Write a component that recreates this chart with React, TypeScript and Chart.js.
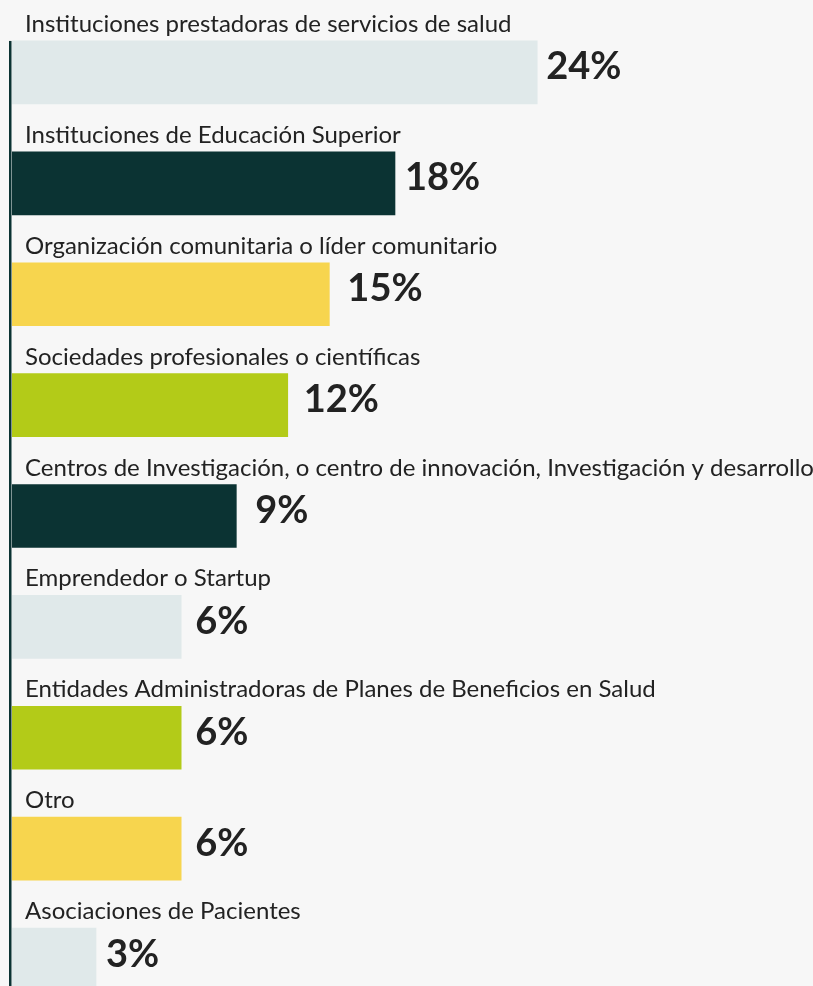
import React, { useEffect, useRef } from 'react';
import { Chart, registerables } from 'chart.js';

Chart.register(...registerables);

const categories = [
  'Instituciones prestadoras de servicios de salud',
  'Instituciones de Educación Superior',
  'Organización comunitaria o líder comunitario',
  'Sociedades profesionales o científicas',
  'Centros de Investigación, o centro de innovación, Investigación y desarrollo',
  'Emprendedor o Startup',
  'Entidades Administradoras de Planes de Beneficios en Salud',
  'Otro',
  'Asociaciones de Pacientes',
];

// bar lengths as drawn in the picture
const barValues = [24, 17.5, 14.5, 12.6, 10.25, 7.73, 7.73, 7.73, 3.84];

// value labels as printed
const valueLabels = ['24%', '18%', '15%', '12%', '9%', '6%', '6%', '6%', '3%'];

const LIGHT = '#e0e9ea';
const DARK = '#0b3333';
const YELLOW = '#f7d54e';
const LIME = '#b3cb18';
const barColors = [LIGHT, DARK, YELLOW, LIME, DARK, LIGHT, LIME, YELLOW, LIGHT];

// style: gap between the bar end and its value label (px)
const labelGaps = [9, 10, 18, 16, 19, 14, 14, 14, 10];

const labelPlugin = {
  id: 'labelPlugin',
  beforeDatasetsDraw(chart: any) {
    const ctx = chart.ctx;
    const meta = chart.getDatasetMeta(0);
    const els = meta.data;
    if (!els.length) return;
    const first = els[0];
    const last = els[els.length - 1];
    const top = first.y - first.height / 2;
    const bottom = last.y + last.height / 2;
    ctx.save();
    ctx.fillStyle = DARK;
    ctx.fillRect(chart.chartArea.left - 3, top, 2.5, bottom - top);
    ctx.restore();
  },
  afterDatasetsDraw(chart: any) {
    const ctx = chart.ctx;
    const meta = chart.getDatasetMeta(0);
    ctx.save();
    meta.data.forEach((el: any, i: number) => {
      const top = el.y - el.height / 2;
      ctx.fillStyle = '#222222';
      ctx.textAlign = 'left';
      ctx.textBaseline = 'alphabetic';
      ctx.font = '24px Lato';
      ctx.fillText(categories[i], chart.chartArea.left + 13, top - 9);
      ctx.font = 'bold 38px Lato';
      ctx.fillText(valueLabels[i], el.x + labelGaps[i], top + 38.5);
    });
    ctx.restore();
  },
};

export default function App() {
  const ref = useRef<HTMLCanvasElement | null>(null);
  useEffect(() => {
    if (!ref.current) return;
    const chart = new Chart(ref.current, {
      type: 'bar',
      data: {
        labels: categories,
        datasets: [
          {
            data: barValues,
            backgroundColor: barColors,
            borderWidth: 0,
            barThickness: 63,
          },
        ],
      },
      options: {
        indexAxis: 'y',
        responsive: false,
        animation: false,
        layout: { padding: { left: 12, top: 17, right: 0, bottom: 0 } },
        plugins: { legend: { display: false }, tooltip: { enabled: false } },
        scales: {
          x: { display: false, min: 0, max: 36.6 },
          y: { display: false, offset: true },
        },
      },
      plugins: [labelPlugin],
    });
    return () => chart.destroy();
  }, []);
  return (
    <div
      style={{
        position: 'absolute',
        left: 0,
        top: 0,
        width: 813,
        height: 986,
        overflow: 'hidden',
        background: '#f7f7f7',
      }}
    >
      <canvas ref={ref} width={813} height={1015} style={{ display: 'block' }} />
    </div>
  );
}
